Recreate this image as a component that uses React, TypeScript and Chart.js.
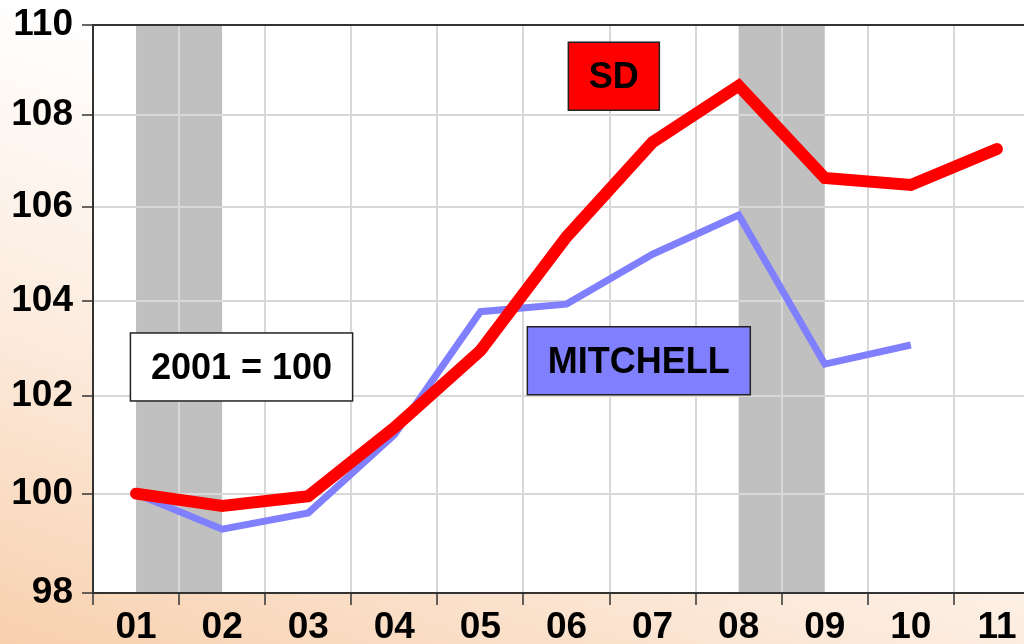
import { useEffect, useRef } from 'react';
import { Chart, registerables } from 'chart.js';

Chart.register(...registerables);

const categories = ['01', '02', '03', '04', '05', '06', '07', '08', '09', '10', '11'];
const sdValues = [100, 99.75, 99.95, 101.35, 102.95, 105.36, 107.41, 108.65, 106.63, 106.48, 107.26];
const mitchellValues = [100, 99.28, 99.61, 101.2, 103.77, 103.93, 104.99, 105.83, 102.67, 103.07, null];
const yTickValues = [98, 100, 102, 104, 106, 108, 110];
const recessionStarts = ['01', '08'];
const recessionEnds = ['02', '09'];
const boxLabels = ['SD', 'MITCHELL', '2001 = 100'];
const boxAnchorIndex = [5.55, 5.84, 1.225];
const boxAnchorValue = [108.86, 102.74, 102.61];
const boxFills = ['#ff0000', '#8080ff', '#ffffff'];

const FONT = '"Liberation Sans", Arial, Helvetica, sans-serif';

export default function App() {
  const ref = useRef<HTMLCanvasElement | null>(null);

  useEffect(() => {
    if (!ref.current) return;
    const bgPlugin = {
      id: 'bgPlugin',
      beforeDraw(chart: any) {
        const { ctx, width, height, chartArea: a, scales } = chart;
        const x = scales.x;
        ctx.save();
        const g = ctx.createLinearGradient(0, height, 200, 60);
        g.addColorStop(0, '#f8d0ae');
        g.addColorStop(0.5, '#fcebdd');
        g.addColorStop(1, '#ffffff');
        ctx.fillStyle = g;
        ctx.fillRect(0, 0, width, height);
        ctx.fillStyle = '#ffffff';
        ctx.fillRect(a.left, a.top, a.right - a.left, a.bottom - a.top);
        ctx.fillStyle = '#c0c0c0';
        recessionStarts.forEach((s, i) => {
          const x0 = x.getPixelForValue(categories.indexOf(s));
          const x1 = x.getPixelForValue(categories.indexOf(recessionEnds[i]));
          ctx.fillRect(x0, a.top, x1 - x0, a.bottom - a.top);
        });
        ctx.restore();
      },
      afterDatasetsDraw(chart: any) {
        const { ctx, chartArea: a, scales } = chart;
        const x = scales.x;
        const y = scales.y;
        ctx.save();
        ctx.font = `bold 36px ${FONT}`;
        ctx.textAlign = 'center';
        ctx.textBaseline = 'middle';
        boxLabels.forEach((label, i) => {
          const cx = x.getPixelForValue(boxAnchorIndex[i]);
          const cy = y.getPixelForValue(boxAnchorValue[i]);
          const w = ctx.measureText(label).width + 41;
          const h = 68;
          ctx.fillStyle = boxFills[i];
          ctx.fillRect(cx - w / 2, cy - h / 2, w, h);
          ctx.strokeStyle = '#222222';
          ctx.lineWidth = 1.5;
          ctx.strokeRect(cx - w / 2, cy - h / 2, w, h);
          ctx.fillStyle = '#000000';
          ctx.fillText(label, cx, cy + 2);
        });
        ctx.strokeStyle = '#333333';
        ctx.lineWidth = 2;
        ctx.beginPath();
        ctx.moveTo(a.left, a.top);
        ctx.lineTo(a.right, a.top);
        ctx.stroke();
        ctx.restore();
      },
    };

    const chart = new Chart(ref.current, {
      type: 'line',
      data: {
        labels: categories,
        datasets: [
          {
            label: 'SD',
            data: sdValues,
            borderColor: '#ff0000',
            borderWidth: 12,
            borderCapStyle: 'round',
            borderJoinStyle: 'miter',
            pointRadius: 0,
            tension: 0,
            fill: false,
          },
          {
            label: 'MITCHELL',
            data: mitchellValues,
            borderColor: '#8080ff',
            borderWidth: 7,
            borderCapStyle: 'butt',
            borderJoinStyle: 'miter',
            pointRadius: 0,
            tension: 0,
            fill: false,
            spanGaps: false,
          },
        ],
      },
      options: {
        animation: false,
        responsive: true,
        maintainAspectRatio: false,
        layout: { padding: { top: 25, right: 10, left: 0, bottom: 0 } },
        plugins: {
          legend: { display: false },
          tooltip: { enabled: false },
        },
        scales: {
          x: {
            type: 'category',
            offset: true,
            grid: {
              offset: true,
              color: '#d8d8d8',
              lineWidth: 2,
              tickLength: 12,
              tickColor: '#333333',
              tickWidth: 1.5,
            },
            border: { color: '#333333', width: 2 },
            ticks: {
              color: '#000000',
              font: { family: FONT, size: 37, weight: 'bold', lineHeight: 1.0 },
              padding: 4,
              maxRotation: 0,
              autoSkip: false,
            },
            afterFit: (s: any) => {
              s.height = 51;
              s.paddingLeft = 0;
              s.paddingRight = 0;
            },
          },
          y: {
            type: 'logarithmic',
            min: 98,
            max: 110,
            afterBuildTicks: (s: any) => {
              s.ticks = yTickValues.map((v) => ({ value: v }));
            },
            grid: {
              color: '#d8d8d8',
              lineWidth: 2,
              tickLength: 11,
              tickColor: '#333333',
              tickWidth: 1.5,
            },
            border: { color: '#333333', width: 2 },
            ticks: {
              color: '#000000',
              font: { family: FONT, size: 37, weight: 'bold', lineHeight: 1.0 },
              padding: 9,
              autoSkip: false,
              callback: (v: any) => String(v),
            },
            afterFit: (s: any) => {
              s.width = 93;
              s.paddingTop = 0;
              s.paddingBottom = 0;
            },
          },
        },
      },
      plugins: [bgPlugin],
    } as any);

    return () => chart.destroy();
  }, []);

  return (
    <div style={{ position: 'fixed', left: 0, top: 0, width: 1050, height: 644 }}>
      <canvas ref={ref} />
    </div>
  );
}
